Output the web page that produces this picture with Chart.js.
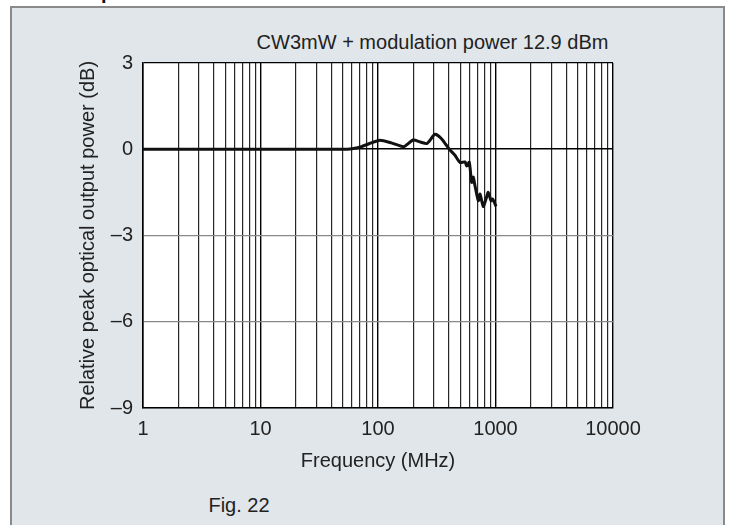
<!DOCTYPE html>
<html>
<head>
<meta charset="utf-8">
<script src="https://cdn.jsdelivr.net/npm/chart.js@4.4.1/dist/chart.umd.min.js"></script>
<style>
    body { margin: 0; background: #fff; width: 730px; height: 525px; overflow: hidden; position: relative; font-family: "Liberation Sans", Arial, sans-serif; }
    #panel { position: absolute; left: 10px; top: 6px; width: 711px; height: 530px; background: #e1e6ea; border-left: 2px solid #8a8a8a; border-top: 2px solid #8a8a8a; border-right: 2px solid #8a8a8a; }
    #cut { position: absolute; left: 101px; top: -19px; font-size: 20px; font-weight: bold; color: #111; }
    #note { position: absolute; left: 0; width: 865px; top: 31px; text-align: center; font-size: 20px; color: #222; }
    #fig { position: absolute; left: 0; width: 478px; top: 494px; text-align: center; font-size: 20px; color: #222; }
    canvas { position: absolute; left: 0; top: 0; }
</style>
</head>
<body>
<div id="panel"></div>
<div id="cut">p</div>
<div id="note">CW3mW + modulation power 12.9 dBm</div>
<div id="fig">Fig. 22</div>
<canvas id="chart" width="730" height="525"></canvas>
<script>
// frequency (MHz) and relative power (dB)
const freq = [1, 10, 30, 50, 60, 70, 85, 104, 130, 166, 199, 230, 261, 306, 350, 404, 450,
              499, 550, 569, 598, 627, 647, 669, 714, 738, 787, 830, 868, 916, 946, 1010];
const power = [0, 0, 0, 0, 0.02, 0.07, 0.2, 0.31, 0.22, 0.09, 0.32, 0.25, 0.2, 0.52, 0.35, 0, -0.2,
               -0.46, -0.44, -0.58, -0.45, -1.15, -0.97, -1.27, -1.79, -1.56, -1.99, -1.73, -1.5, -1.79, -1.73, -1.99];

const xTicks = [1, 2, 3, 4, 5, 6, 7, 8, 9, 10, 20, 30, 40, 50, 60, 70, 80, 90,
                100, 200, 300, 400, 500, 600, 700, 800, 900, 1000, 2000, 3000, 4000, 5000,
                6000, 7000, 8000, 9000, 10000];
const xLabels = [1, 10, 100, 1000, 10000];
const yTicks = [3, 0, -3, -6, -9];

const font = { family: '"Liberation Sans", Arial, sans-serif', size: 20 };

const plotBg = {
    id: 'plotBg',
    beforeDraw(chart) {
        const a = chart.chartArea;
        chart.ctx.save();
        chart.ctx.fillStyle = '#fff';
        chart.ctx.fillRect(a.left, a.top, a.right - a.left, a.bottom - a.top);
        chart.ctx.restore();
    }
};

new Chart(document.getElementById('chart'), {
    type: 'scatter',
    data: {
        datasets: [{
            data: freq.map((f, i) => ({ x: f, y: power[i] })),
            showLine: true,
            borderColor: '#111',
            borderWidth: 3,
            pointRadius: 0,
            tension: 0.2
        }]
    },
    options: {
        responsive: false,
        animation: false,
        layout: { padding: { top: 63, right: 117, left: 0, bottom: 0 } },
        plugins: { legend: { display: false }, tooltip: { enabled: false } },
        scales: {
            x: {
                type: 'logarithmic',
                min: 1,
                max: 10000,
                afterBuildTicks: scale => { scale.ticks = xTicks.map(v => ({ value: v })); },
                afterFit: scale => { scale.height = 117; },
                ticks: {
                    autoSkip: false,
                    maxRotation: 0,
                    padding: 9,
                    color: '#222',
                    font: font,
                    callback: v => xLabels.includes(v) ? String(v) : ''
                },
                grid: {
                    drawTicks: false,
                    color: ctx => xLabels.includes(ctx.tick.value) ? '#000' : '#262626',
                    lineWidth: ctx => xLabels.includes(ctx.tick.value) ? 1.4 : 1.2
                },
                border: { color: '#000', width: 1.5 },
                title: { display: true, text: 'Frequency (MHz)', color: '#222', font: font, padding: { top: 0, bottom: 52 } }
            },
            y: {
                min: -9,
                max: 3,
                afterBuildTicks: scale => { scale.ticks = yTicks.map(v => ({ value: v })); },
                afterFit: scale => { scale.width = 143; },
                ticks: {
                    padding: 10,
                    color: '#222',
                    font: font,
                    callback: v => v < 0 ? '\u2013' + Math.abs(v) : String(v)
                },
                grid: {
                    drawTicks: false,
                    color: ctx => (ctx.tick.value === 0 || ctx.tick.value === 3) ? '#000' : '#888',
                    lineWidth: ctx => ctx.tick.value === 0 ? 1.6 : 1.3
                },
                border: { color: '#000', width: 1.5 },
                title: { display: true, text: 'Relative peak optical output power (dB)', color: '#222', font: font, padding: { top: 76, bottom: 0 } }
            }
        }
    },
    plugins: [plotBg]
});
</script>
</body>
</html>
